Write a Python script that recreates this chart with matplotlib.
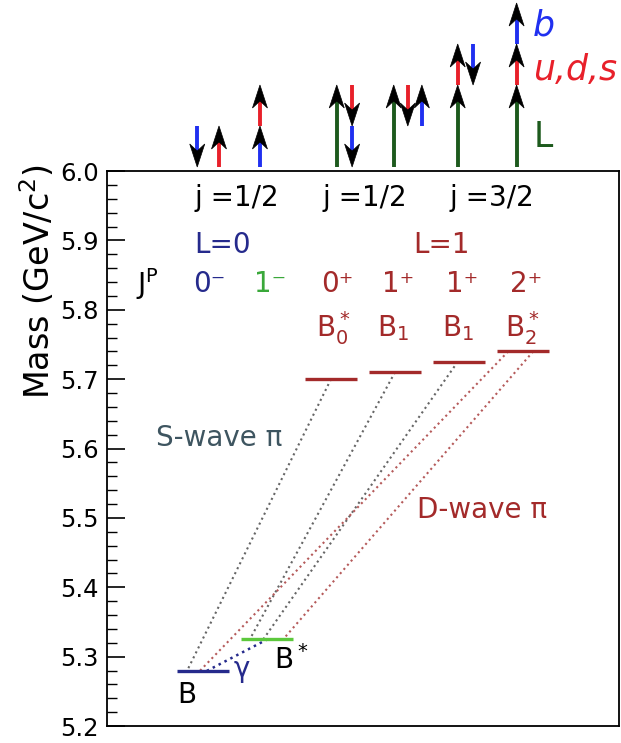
import numpy as np
import matplotlib.pyplot as plt
from matplotlib.patches import Polygon

plt.rcParams['font.family'] = 'DejaVu Sans'
plt.rcParams['mathtext.fontset'] = 'dejavusans'

# ---- level scheme (masses in GeV/c^2) ----
state_cols = [0, 1, 2, 3, 4, 5]
state_masses = [5.2794, 5.3247, 5.700, 5.710, 5.725, 5.740]
jp_labels = ['0\u207b', '1\u207b', '0\u207a', '1\u207a', '1\u207a', '2\u207a']
name_labels = ['', '', 'B$_0^*$', 'B$_1$', 'B$_1$', 'B$_2^*$']
j_labels = ['j =1/2', 'j =1/2', 'j =3/2']
L_labels = ['L=0', 'L=1']

# decays: from state -> to state, x where line leaves / lands
decay_from = [2, 3, 4, 5, 5]
decay_to = [0, 1, 1, 0, 1]
decay_x0 = [2.0, 3.0, 3.98, 4.77, 5.16]
decay_x1 = [-0.25, 0.73, 0.94, -0.05, 1.25]

# spin arrows above the frame: column, start step, end step, kind
arrow_x = [-0.09, 0.25, 0.89, 0.89, 2.09, 2.33, 2.33, 2.98, 3.2, 3.42,
           3.98, 3.98, 4.22, 4.9, 4.9, 4.9]
arrow_s0 = [1, 0, 0, 1, 0, 2, 1, 0, 2, 1, 0, 2, 3, 0, 2, 3]
arrow_s1 = [0, 1, 1, 2, 2, 1, 0, 2, 1, 2, 2, 3, 2, 2, 3, 4]
arrow_kind = ['b', 'q', 'b', 'q', 'L', 'q', 'b', 'L', 'q', 'b',
              'L', 'q', 'b', 'L', 'q', 'b']

NAVY = '#252a8c'
GREEN = '#5cc83c'
BROWN = '#a32a2a'
SLATE = '#3e5560'
kind_color = {'b': '#2030f0', 'q': '#e8202a', 'L': '#1d5a1d'}
state_colors = [NAVY, GREEN, BROWN, BROWN, BROWN, BROWN]
jp_colors = [NAVY, '#3aa83a', BROWN, BROWN, BROWN, BROWN]

fig = plt.figure(figsize=(6.21, 7.43), dpi=100)
ax = fig.add_axes([107 / 621, 17 / 743, 512 / 621, 555 / 743])
ax.set_xlim(-1.5, 6.5)
ax.set_ylim(5.2, 6.0)

px = 8.0 / 512     # one pixel in x data units
py = 0.8 / 555     # one pixel in y data units

# energy levels
for c, m, col in zip(state_cols, state_masses, state_colors):
    ax.plot([c - 0.4, c + 0.4], [m, m], color=col, lw=2.4,
            solid_capstyle='butt', zorder=3)

# decay lines
for f, t, x0, x1 in zip(decay_from, decay_to, decay_x0, decay_x1):
    col = '#b55a5a' if f == 5 else '#666666'
    ax.plot([x0, x1], [state_masses[f], state_masses[t]], ls=':',
            color=col, lw=1.5, zorder=2)
# photon line B* -> B
ax.plot([0.06, 1.0], [state_masses[0], state_masses[1]], ls=':',
        color=NAVY, lw=1.8, zorder=2)

# labels
fs = 20
for x, s in zip([0.53, 2.53, 4.52], j_labels):
    ax.text(x, 5.961, s, ha='center', va='center', fontsize=fs, color='k')
ax.text(0.31, 5.893, L_labels[0], ha='center', va='center', fontsize=fs, color=NAVY)
ax.text(3.72, 5.893, L_labels[1], ha='center', va='center', fontsize=fs, color=BROWN)
ax.text(-0.87, 5.837, 'J$^{\\mathrm{P}}$', ha='center', va='center', fontsize=fs, color='k')
jp_x = [0.1, 1.05, 2.1, 3.05, 4.05, 5.05]
for x, s, col in zip(jp_x, jp_labels, jp_colors):
    ax.text(x, 5.837, s, ha='center', va='center', fontsize=fs, color=col)
name_x = [0, 0, 2.03, 2.97, 3.98, 4.98]
for x, s in zip(name_x, name_labels):
    if s:
        ax.text(x, 5.774, s, ha='center', va='center', fontsize=fs, color=BROWN)

ax.text(0.25, 5.615, 'S-wave \u03c0', ha='center', va='center', fontsize=20, color=SLATE)
ax.text(4.36, 5.511, 'D-wave \u03c0', ha='center', va='center', fontsize=20, color=BROWN)
ax.text(-0.25, 5.245, 'B', ha='center', va='center', fontsize=fs, color='k')
ax.text(0.61, 5.282, '\u03b3', ha='center', va='center', fontsize=fs, color=NAVY)
ax.text(1.37, 5.295, 'B$^*$', ha='center', va='center', fontsize=fs, color='k')

# spin arrows
ybase = 6.0 + 4 * py
step = 41 * py
hl, hw, notch = 23 * py, 7.5 * px, 7 * py
for x, s0, s1, k in zip(arrow_x, arrow_s0, arrow_s1, arrow_kind):
    y0 = ybase + s0 * step
    y1 = ybase + s1 * step
    d = np.sign(y1 - y0)
    ax.plot([x, x], [y0, y1 - d * hl * 0.6], color=kind_color[k], lw=2.8,
            solid_capstyle='butt', clip_on=False, zorder=4)
    head = Polygon([[x, y1], [x - hw, y1 - d * hl], [x, y1 - d * (hl - notch)],
                    [x + hw, y1 - d * hl]], closed=True, fc='k', ec='k',
                   lw=0.5, clip_on=False, zorder=5)
    ax.add_patch(head)

ax.text(5.16, 6.21, 'b', ha='left', va='center', fontsize=25, style='italic',
        color=kind_color['b'], clip_on=False)
ax.text(5.16, 6.146, 'u,d,s', ha='left', va='center', fontsize=25, style='italic',
        color=kind_color['q'], clip_on=False)
ax.text(5.16, 6.049, 'L', ha='left', va='center', fontsize=25,
        color=kind_color['L'], clip_on=False)

# axes styling
ax.set_xticks([])
ax.set_yticks(np.arange(5.2, 6.01, 0.1))
ax.set_yticks(np.arange(5.2, 6.0, 0.02), minor=True)
ax.tick_params(axis='y', which='major', direction='in', length=13, width=1.2,
               labelsize=17.5, pad=6)
ax.tick_params(axis='y', which='minor', direction='in', length=7, width=1.0)
for sp in ax.spines.values():
    sp.set_linewidth(1.3)
fig.text(38 / 621, 1 - 282 / 743, 'Mass (GeV/c$^{2}$)', rotation=90,
         ha='center', va='center', fontsize=24)

fig.savefig('out.png', dpi=100)
